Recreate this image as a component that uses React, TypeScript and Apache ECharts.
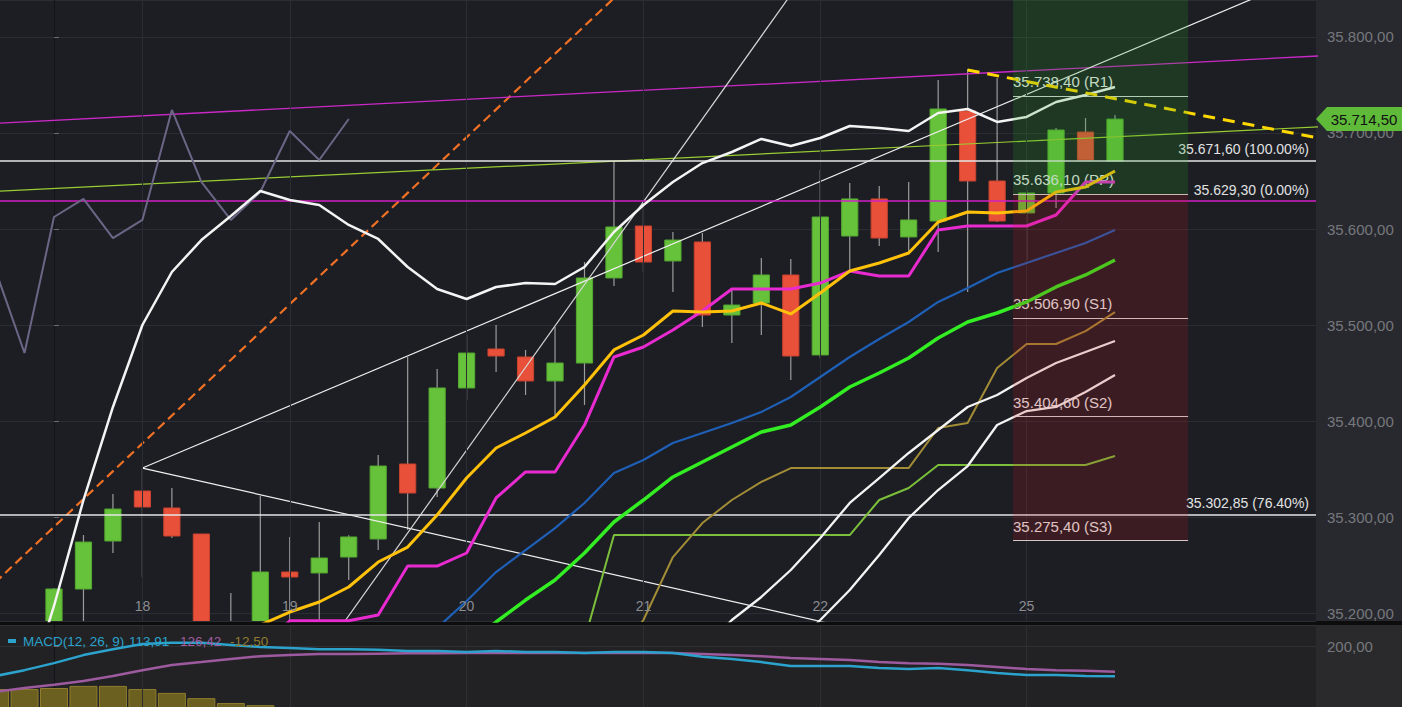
import React, { useEffect, useRef } from 'react';
import * as echarts from 'echarts';

const FONT = '"Liberation Sans", Arial, Helvetica, sans-serif';

// x axis = bar index (0 = first visible candle)
const X_MIN = -1.832;
const X_MAX = 42.82;
const dayTicks = [3, 8, 14, 20, 26, 33];
const dayLabels = ['18', '19', '20', '21', '22', '25'];

// candles, index 0..36
const candleOpen = [35185, 35225.0, 35275.0, 35327.1, 35309.4, 35282.3, 35180, 35175, 35242.7, 35241.7, 35258.3, 35277.1, 35355.2, 35330.2, 35434.4, 35475.0, 35466.7, 35441.7, 35460.4, 35549.0, 35603.1, 35566.7, 35586.5, 35510.4, 35522.9, 35552.1, 35468.8, 35592.7, 35631.3, 35591.7, 35608.3, 35722.9, 35650.0, 35616.7, 35637.5, 35701.0, 35670.8];
const candleClose = [35225.0, 35273.9, 35308.3, 35310.4, 35280.2, 35165, 35160, 35242.7, 35237.5, 35257.3, 35279.2, 35353.1, 35325.0, 35434.4, 35470.8, 35467.7, 35441.7, 35460.4, 35549.0, 35602.1, 35565.6, 35588.5, 35510.4, 35520.8, 35552.1, 35467.7, 35612.5, 35631.3, 35590.6, 35609.4, 35725.0, 35650.0, 35608.3, 35637.5, 35703.1, 35671.9, 35714.5];
const candleLow = [35160, 35170, 35262.5, 35237.5, 35278.1, 35150, 35140, 35160, 35185, 35185, 35234.4, 35265.6, 35286.5, 35320.8, 35421.9, 35451.0, 35427.1, 35406.3, 35416.7, 35540.6, 35555.2, 35534.4, 35497.9, 35481.3, 35489.6, 35442.7, 35465.6, 35555.2, 35582.3, 35575.0, 35576.0, 35534.4, 35607.3, 35567.7, 35621.9, 35671.9, 35670.8];
const candleHigh = [35226, 35281.2, 35324.0, 35351.0, 35330.2, 35282.3, 35220.8, 35321.9, 35279.2, 35294.8, 35281.0, 35364.6, 35466.7, 35454.2, 35490.0, 35500.0, 35474.0, 35497.9, 35565.6, 35669.8, 35622.9, 35596.9, 35595.8, 35536.5, 35569.8, 35568.8, 35661.5, 35647.9, 35644.8, 35649.0, 35755.2, 35766.7, 35757.3, 35640.6, 35705.2, 35715.6, 35718.8];

// Bollinger bands, index -2..36
const BB_START = -2;
const bbUpper = [35016, 35109, 35207.3, 35317.7, 35414.6, 35500.0, 35555.2, 35588.5, 35613.5, 35639.6, 35630.2, 35625.0, 35604.2, 35589.6, 35560.4, 35537.5, 35527.1, 35539.6, 35543.7, 35542.7, 35560.4, 35596.9, 35625.0, 35648.9, 35668.7, 35680.2, 35693.8, 35686.5, 35694.8, 35707.3, 35705.2, 35702.1, 35720.8, 35725.0, 35711.5, 35716.7, 35732.3, 35739.6, 35747.9];
const bbLower = [34960, 35010, 35040, 35010, 34960, 34900, 34850, 34800, 34770, 34740, 34730, 34725, 34735, 34750, 34780, 34831, 34898, 34946, 34988, 35034, 35069, 35095, 35094, 35105, 35106, 35116, 35125, 35163.5, 35192.7, 35224.0, 35260.4, 35299.0, 35328.1, 35353.1, 35395.8, 35410.4, 35414.6, 35430.2, 35447.9];
const BLUE_START = 13;
const bbMiddle = [35184.4, 35212.5, 35242.7, 35265.6, 35288.5, 35314.6, 35345.8, 35359.4, 35377.1, 35387.5, 35397.9, 35409.4, 35425.0, 35445.8, 35466.7, 35485.4, 35503.1, 35524.0, 35538.5, 35554.2, 35564.6, 35575.0, 35585.4, 35599.0];

const WHITE2_START = 20;
const whiteBand2 = [35100, 35130, 35161.5, 35192.7, 35216.7, 35244.8, 35278.1, 35314.6, 35340.6, 35366.7, 35390.6, 35414.6, 35427.1, 35444.8, 35460.4, 35471.9, 35483.3];

const YELLOW_START = 7;
const yellowMA = [35187.5, 35201.0, 35211.5, 35227.1, 35253.1, 35268.7, 35302.1, 35340.6, 35371.9, 35387.5, 35404.2, 35437.5, 35474.0, 35489.6, 35514.6, 35513.5, 35514.6, 35522.9, 35511.5, 35533.3, 35556.2, 35564.6, 35575.0, 35607.3, 35617.7, 35616.7, 35618.7, 35638.5, 35643.7, 35660.4];
const MAGENTA_START = 7;
const magentaMA = [35160, 35192, 35192, 35192, 35198, 35248.9, 35248.9, 35262.5, 35319.8, 35346.9, 35346.9, 35395.8, 35466.7, 35477.1, 35494.8, 35514.6, 35537.5, 35537.5, 35537.5, 35543.7, 35556.2, 35551.0, 35551.0, 35599.0, 35603.1, 35603.1, 35603.1, 35614.6, 35649.0, 35649.0];
const GREEN_START = 14;
const greenMA = [35166.7, 35190.6, 35213.5, 35234.4, 35262.5, 35294.8, 35317.7, 35341.7, 35357.3, 35372.9, 35388.5, 35395.8, 35414.6, 35435.4, 35450.0, 35465.6, 35486.5, 35503.1, 35512.5, 35524.0, 35539.6, 35552.1, 35567.7];
const OLIVE_START = 19;
const oliveLine = [35151, 35192.7, 35258.3, 35293.7, 35317.7, 35336.5, 35351.0, 35351.0, 35351.0, 35351.0, 35351.0, 35392.7, 35397.9, 35455.2, 35480.2, 35480.2, 35493.7, 35513.5];
const LIME_START = 18;
const limeLine = [35172, 35281.2, 35281.2, 35281.2, 35281.2, 35281.2, 35281.2, 35281.2, 35281.2, 35281.2, 35317.7, 35330.2, 35354.2, 35354.2, 35354.2, 35354.2, 35354.2, 35354.2, 35363.5];
const GREY_START = -2;
const greyLine = [35558.3, 35470.8, 35612.5, 35631.3, 35590.6, 35609.4, 35724.0, 35649.0, 35609.4, 35638.5, 35702.1, 35671.9, 35714.6];

// drawn trend lines: [x, value] endpoints
const orangeTrend = [[-2, 35231.7], [20, 35869.5]];
const magentaTrend = [[-2, 35710.1], [43, 35780.4]];
const limeTrend = [[-2, 35639.3], [43, 35706.5]];
const fanUp = [[3, 35351.0], [45, 35896.0]];
const fanDown = [[3, 35351.0], [30, 35163.5]];
const steepLine = [[9, 35154.0], [26, 35887.2]];
const yellowTrend = [[31, 35765.6], [43, 35694.2]];

// fibonacci levels
const fibValues = [35671.6, 35629.3, 35302.85];
const fibLabels = ['35.671,60 (100.00%)', '35.629,30 (0.00%)', '35.302,85 (76.40%)'];
const fibColors = ['#e6e6e6', '#d21fc4', '#e6e6e6'];

// pivot points
const pivotX = [32.54, 38.48];
const pivotValues = [35738.4, 35636.1, 35506.9, 35404.6, 35275.4];
const pivotLabels = ['35.738,40 (R1)', '35.636,10 (PP)', '35.506,90 (S1)', '35.404,60 (S2)', '35.275,40 (S3)'];
const pivotBoxTop = 35900;

const lastPrice = 35714.5;

// MACD, index -2..36
const MACD_START = -2;
const macdLine = [114, 131, 151, 174, 191, 206, 209, 209, 203, 197, 194, 191, 191, 189, 186, 186, 183, 186, 183, 183, 180, 183, 183, 180, 169, 163, 154, 143, 143, 143, 137, 134, 137, 131, 123, 117, 117, 114, 113.91];
const signalLine = [69, 80, 89, 100, 114, 131, 146, 154, 163, 171, 174, 177, 177, 178, 179, 179, 180, 180, 180, 180, 180, 180, 180, 180, 177, 174, 171, 166, 163, 160, 154, 151, 149, 146, 140, 134, 131, 129, 126.42];
const histValues = [77, 77, 80, 86, 86, 77, 66, 51, 37, 31, 20, 14, 14, 11, 7, 7, 3, 6, 3, 3, 0, 3, 3, 0, -8, -11, -17, -23, -20, -17, -17, -17, -12, -15, -17, -17, -14, -15, -12.5];

const GREEN = '#66c23a';
const GREEN_EDGE = '#55a830';
const RED = '#e8503a';
const RED_EDGE = '#c9432f';

function de(v: number): string {
  const s = Math.abs(v).toFixed(2);
  const [a, b] = s.split('.');
  return (v < 0 ? '-' : '') + a.replace(/\B(?=(\d{3})+(?!\d))/g, '.') + ',' + b;
}

const pts = (start: number, arr: number[]) => arr.map((v, k) => [start + k, v]);

function lineS(name: string, data: number[][], color: string, width: number, z: number, extra: any = {}) {
  return {
    type: 'line', name, data, symbol: 'none', silent: true, z,
    lineStyle: { color, width, ...(extra.lineStyle || {}) },
    ...Object.fromEntries(Object.entries(extra).filter(([k]) => k !== 'lineStyle')),
  };
}

export default function App() {
  const ref = useRef<HTMLDivElement>(null);
  useEffect(() => {
    document.body.style.margin = '0';
    document.body.style.overflow = 'hidden';
    const chart = echarts.init(ref.current!, null, { renderer: 'svg' });

    const candleData = candleOpen.map((o, i) => [i, o, candleClose[i], candleLow[i], candleHigh[i]]);
    const bbDiff = bbUpper.map((u, k) => u - bbLower[k]);
    const boxColors = ['rgba(40,160,40,0.2)', 'rgba(200,20,30,0.18)'];
    const boxData = [
      [pivotX[0], pivotX[1], pivotBoxTop, pivotValues[1], 0],
      [pivotX[0], pivotX[1], pivotValues[1], pivotValues[4], 1],
    ];

    const option: any = {
      animation: false,
      backgroundColor: '#0d0d0e',
      textStyle: { fontFamily: FONT },
      grid: [
        { left: 0, top: 0, width: 1316, height: 621, show: true, backgroundColor: '#1c1e24', borderWidth: 0, outerBoundsMode: 'none', containLabel: false },
        { left: 0, top: 625, width: 1316, height: 91, show: true, backgroundColor: '#222224', borderWidth: 0, outerBoundsMode: 'none', containLabel: false },
      ],
      xAxis: [
        {
          type: 'value', gridIndex: 0, min: X_MIN, max: X_MAX, z: 20,
          axisLine: { show: false }, axisTick: { show: false }, splitLine: { show: false },
          axisLabel: {
            customValues: dayTicks, inside: true, margin: 8, color: '#8b8d91', fontSize: 14, fontFamily: FONT,
            formatter: (v: number) => dayLabels[dayTicks.indexOf(Math.round(v))] ?? '',
          },
        },
        {
          type: 'value', gridIndex: 1, min: X_MIN, max: X_MAX,
          axisLine: { show: false }, axisTick: { show: false }, splitLine: { show: false }, axisLabel: { show: false },
        },
      ],
      yAxis: [
        {
          type: 'value', gridIndex: 0, position: 'right', min: 35191.67, max: 35838.54,
          axisLine: { show: true, lineStyle: { color: '#131417' } },
          axisTick: { show: true, length: 5, lineStyle: { color: '#6a6c70' } },
          axisLabel: { color: '#76787d', fontSize: 15, margin: 11, fontFamily: FONT, showMinLabel: false, showMaxLabel: false, formatter: (v: number) => de(v) },
          splitLine: { show: true, lineStyle: { color: '#2a2d33', width: 1 } },
        },
        {
          type: 'value', gridIndex: 1, position: 'right', min: 0, max: 260, interval: 200,
          axisLine: { show: true, lineStyle: { color: '#131417' } },
          axisTick: { show: true, length: 5, lineStyle: { color: '#6a6c70' } },
          axisLabel: { color: '#76787d', fontSize: 15, margin: 11, fontFamily: FONT, showMaxLabel: false, formatter: (v: number) => de(v) },
          splitLine: { show: true, lineStyle: { color: '#303032', width: 1 } },
        },
      ],
      graphic: [
        { type: 'rect', shape: { x: 1316, y: 0, width: 86, height: 621 }, style: { fill: '#28292e' }, z: -10, silent: true },
        { type: 'rect', shape: { x: 1316, y: 625, width: 86, height: 82 }, style: { fill: '#2a2a2c' }, z: -10, silent: true },
        { type: 'rect', shape: { x: 8, y: 639, width: 8, height: 4 }, style: { fill: '#2ba3cc' }, z: 50, silent: true },
        { type: 'text', x: 23, y: 641, z: 50, silent: true, style: { text: 'MACD(12, 26, 9)', fill: '#2ba3cc', fontSize: 13.5, fontFamily: FONT, verticalAlign: 'middle' } },
        { type: 'text', x: 129, y: 641, z: 50, silent: true, style: { text: de(macdLine[macdLine.length - 1]), fill: '#2ba3cc', fontSize: 13.5, fontFamily: FONT, verticalAlign: 'middle' } },
        { type: 'text', x: 180, y: 641, z: 50, silent: true, style: { text: de(signalLine[signalLine.length - 1]), fill: '#a05ca0', fontSize: 13.5, fontFamily: FONT, verticalAlign: 'middle' } },
        { type: 'text', x: 230, y: 641, z: 50, silent: true, style: { text: de(histValues[histValues.length - 1]), fill: '#8f7c30', fontSize: 13.5, fontFamily: FONT, verticalAlign: 'middle' } },
      ],
      series: [
        // Bollinger fill (stacked)
        {
          type: 'line', name: 'bbBase', data: pts(BB_START, bbLower), stack: 'bb', symbol: 'none', silent: true, z: 1,
          lineStyle: { width: 0, opacity: 0 },
          markLine: {
            silent: true, symbol: ['none', 'none'], label: { show: false },
            lineStyle: { color: '#2a2d33', width: 1, type: 'solid' },
            data: dayTicks.map((v) => ({ xAxis: v })),
          },
        },
        {
          type: 'line', name: 'bbFill', data: pts(BB_START, bbDiff), stack: 'bb', symbol: 'none', silent: true, z: 1,
          lineStyle: { width: 0, opacity: 0 },
          areaStyle: { color: 'rgba(88,117,36,0.15)', opacity: 1 },
        },
        // candles
        {
          type: 'custom', name: 'candles', z: 3, clip: true, silent: true,
          encode: { x: 0, y: [1, 2, 3, 4] },
          data: candleData,
          renderItem: (params: any, api: any) => {
            const x = api.value(0);
            const o = api.value(1), c = api.value(2), l = api.value(3), h = api.value(4);
            const po = api.coord([x, o]);
            const pc = api.coord([x, c]);
            const pl = api.coord([x, l]);
            const ph = api.coord([x, h]);
            const w = api.size([1, 0])[0] * 0.55;
            const top = Math.min(po[1], pc[1]);
            const hh = Math.max(Math.abs(po[1] - pc[1]), 2);
            const up = c >= o;
            return {
              type: 'group',
              children: [
                { type: 'line', shape: { x1: po[0], y1: ph[1], x2: po[0], y2: pl[1] }, style: { stroke: '#9c9c9c', lineWidth: 1.2 } },
                { type: 'rect', shape: { x: po[0] - w / 2, y: top, width: w, height: hh }, style: { fill: up ? GREEN : RED, stroke: up ? GREEN_EDGE : RED_EDGE, lineWidth: 1 } },
              ],
            };
          },
        },
        // trend lines + fib levels
        lineS('orangeTrend', orangeTrend, '#f07024', 2.2, 4, { lineStyle: { type: [9, 5] } }),
        lineS('magentaTrend', magentaTrend, '#cc28c8', 1.3, 4),
        lineS('limeTrend', limeTrend, '#9acd32', 1.2, 4, {
          markLine: {
            silent: true, symbol: ['none', 'none'],
            data: fibValues.map((v, k) => ({
              yAxis: v,
              lineStyle: { color: fibColors[k], width: 1.5, type: 'solid' },
              label: { show: true, position: 'insideEndTop', distance: [7, 4], formatter: fibLabels[k], color: '#e2e2e2', fontSize: 14, fontFamily: FONT },
            })),
          },
        }),
        lineS('fanUp', fanUp, '#f0f0f0', 1.2, 4),
        lineS('fanDown', fanDown, '#f0f0f0', 1.2, 4),
        lineS('steep', steepLine, '#d6d6d6', 1.2, 4),
        // indicator lines
        lineS('grey', pts(GREY_START, greyLine), '#6c6585', 2, 5),
        lineS('lime', pts(LIME_START, limeLine), '#7bbf3a', 2, 5),
        lineS('olive', pts(OLIVE_START, oliveLine), '#a38c36', 2, 5),
        lineS('white2', pts(WHITE2_START, whiteBand2), '#f4f4f4', 2.3, 5),
        lineS('bbLower', pts(BB_START, bbLower), '#f4f4f4', 2.3, 5),
        lineS('bbUpper', pts(BB_START, bbUpper), '#f4f4f4', 2.5, 5),
        lineS('bbMiddle', pts(BLUE_START, bbMiddle), '#1f5fb5', 2.2, 5),
        lineS('greenMA', pts(GREEN_START, greenMA), '#33ee22', 3.5, 5),
        lineS('magentaMA', pts(MAGENTA_START, magentaMA), '#e82ad0', 3, 5),
        lineS('yellowMA', pts(YELLOW_START, yellowMA), '#ffc10a', 3, 5),
        lineS('yellowTrend', yellowTrend, '#ffd800', 3, 6, { lineStyle: { type: [12, 8] } }),
        // pivot box overlay (above candles and lines)
        {
          type: 'custom', name: 'pivotBox', z: 10, clip: true, silent: true,
          encode: { x: [0, 1], y: [2, 3] },
          data: boxData,
          renderItem: (params: any, api: any) => {
            const p0 = api.coord([api.value(0), api.value(2)]);
            const p1 = api.coord([api.value(1), api.value(3)]);
            return {
              type: 'rect',
              shape: { x: p0[0], y: p0[1], width: p1[0] - p0[0], height: p1[1] - p0[1] },
              style: { fill: boxColors[api.value(4)] },
            };
          },
        },
        // pivot lines + last price tag
        {
          type: 'line', name: 'pivotLines', data: [[pivotX[0], pivotValues[1]]], symbol: 'none', silent: true, z: 11,
          lineStyle: { opacity: 0 },
          markLine: {
            silent: true, symbol: ['none', 'none'],
            lineStyle: { color: '#d8d8d8', width: 1.2, type: 'solid' },
            data: pivotValues.map((v, k) => [
              {
                coord: [pivotX[0], v],
                label: { show: true, position: 'insideStartTop', distance: [0, 7], formatter: pivotLabels[k], color: '#e8e8e8', fontSize: 15, fontFamily: FONT },
              },
              { coord: [pivotX[1], v] },
            ]),
          },
          markPoint: {
            silent: true,
            symbol: 'path://M0,12 L11,0 L86,0 L86,24 L11,24 Z',
            symbolSize: [86, 24], symbolKeepAspect: false, symbolOffset: [43, 0],
            itemStyle: { color: '#5fba3a' },
            label: { show: true, position: 'inside', offset: [5, 0], color: '#111111', fontSize: 15, fontFamily: FONT, formatter: de(lastPrice) },
            data: [{ coord: [X_MAX, lastPrice] }],
          },
        },
        // MACD
        {
          type: 'bar', name: 'hist', xAxisIndex: 1, yAxisIndex: 1, data: pts(MACD_START, histValues), barWidth: 28, silent: true, z: 2,
          itemStyle: { color: '#6c6021', borderColor: '#8f7e2e', borderWidth: 1 },
          markLine: {
            silent: true, symbol: ['none', 'none'], label: { show: false },
            lineStyle: { color: '#2e2e31', width: 1, type: 'solid' },
            data: dayTicks.map((v) => ({ xAxis: v })),
          },
        },
        { ...lineS('signal', pts(MACD_START, signalLine), '#9d5a9e', 2.5, 5), xAxisIndex: 1, yAxisIndex: 1 },
        { ...lineS('macd', pts(MACD_START, macdLine), '#2ba3cc', 2.5, 5), xAxisIndex: 1, yAxisIndex: 1 },
      ],
    };
    chart.setOption(option);
    return () => chart.dispose();
  }, []);
  return <div ref={ref} style={{ width: 1402, height: 707 }} />;
}
